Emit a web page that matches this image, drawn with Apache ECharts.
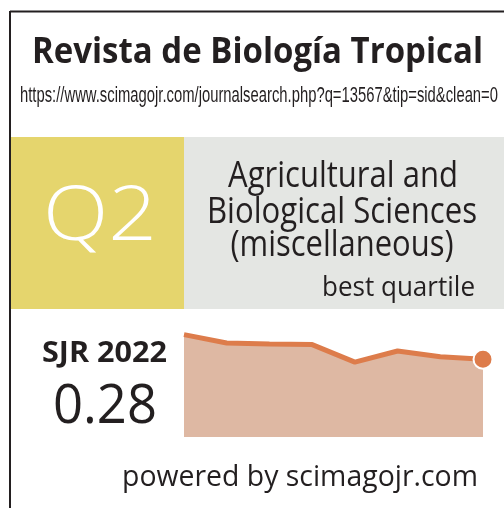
<!DOCTYPE html>
<html>
<head>
<meta charset="utf-8">
<script src="https://cdn.jsdelivr.net/npm/echarts@6/dist/echarts.min.js"></script>
<style>
  html,body{margin:0;padding:0;background:#fff;}
  #main{width:504px;height:508px;}
</style>
</head>
<body>
<div id="main"></div>
<script>
  // SJR history
  var years = ['2015','2016','2017','2018','2019','2020','2021','2022'];
  var sjr = [0.369, 0.339, 0.335, 0.333, 0.270, 0.310, 0.289, 0.28];

  var journal = 'Revista de Biología Tropical';
  var url = 'https://www.scimagojr.com/journalsearch.php?q=13567&tip=sid&clean=0';
  var quartile = 'Q2';
  var category = ['Agricultural and', 'Biological Sciences', '(miscellaneous)'];

  var ink = '#231f20';
  var ctx = document.createElement('canvas').getContext('2d');
  // squeeze text horizontally so it fills the width it has in the widget
  function txt(s, font, x, y, w, align, color){
    ctx.font = font;
    var sx = w / ctx.measureText(s).width;
    return {
      type: 'text', x: x, y: y, scaleX: sx, silent: true,
      style: {text: s, font: font, fill: color || ink, align: align || 'left', verticalAlign: 'middle'}
    };
  }

  var data = sjr.map(function(v, i){
    if(i == sjr.length - 1){
      return {value: v, symbol: 'circle', symbolSize: 19,
        itemStyle: {color: '#dd7c4b', borderColor: '#fff', borderWidth: 2}};
    }
    return {value: v, symbol: 'none'};
  });

  var myChart = echarts.init(document.getElementById('main'));
  var option = {
    animation: false,
    grid: {left: 184, right: 21, top: 326, bottom: 71},
    xAxis: {type: 'category', data: years, boundaryGap: false, show: false},
    yAxis: {type: 'value', min: 0, max: 0.4, show: false},
    series: [{
      type: 'line',
      data: data,
      showSymbol: true,
      lineStyle: {color: '#dd7c4b', width: 5},
      areaStyle: {color: '#deb8a3', opacity: 1},
      z: 3
    }],
    graphic: [
      {type: 'line', shape: {x1: 10, y1: 11.5, x2: 504, y2: 11.5}, style: {stroke: ink, lineWidth: 2}},
      {type: 'line', shape: {x1: 10, y1: 11, x2: 10, y2: 508}, style: {stroke: ink, lineWidth: 2}},
      {type: 'rect', shape: {x: 11, y: 137, width: 173, height: 172}, style: {fill: '#e5d56d'}},
      {type: 'rect', shape: {x: 184, y: 137, width: 320, height: 172}, style: {fill: '#e4e6e3'}},
      txt(journal, 'bold 36px "Open Sans"', 32, 53, 451),
      txt(url, '22px "Liberation Sans"', 20, 96, 478),
      txt(quartile, '300 76px "Open Sans"', 100, 218, 114, 'center', '#ffffff'),
      txt(category[0], '36px "Open Sans"', 343, 177, 230, 'center'),
      txt(category[1], '36px "Open Sans"', 342, 213, 270, 'center'),
      txt(category[2], '36px "Open Sans"', 342, 246, 223, 'center'),
      txt('best quartile', '28px "Open Sans"', 475, 288, 153, 'right'),
      txt('SJR ' + years[years.length - 1], 'bold 28px "Open Sans"', 42, 354, 125),
      txt(String(sjr[sjr.length - 1]), '54px "Open Sans"', 53, 408, 104),
      txt('powered by scimagojr.com', '30px "Open Sans"', 122, 477, 356)
    ]
  };
  myChart.setOption(option, true);
</script>
</body>
</html>
